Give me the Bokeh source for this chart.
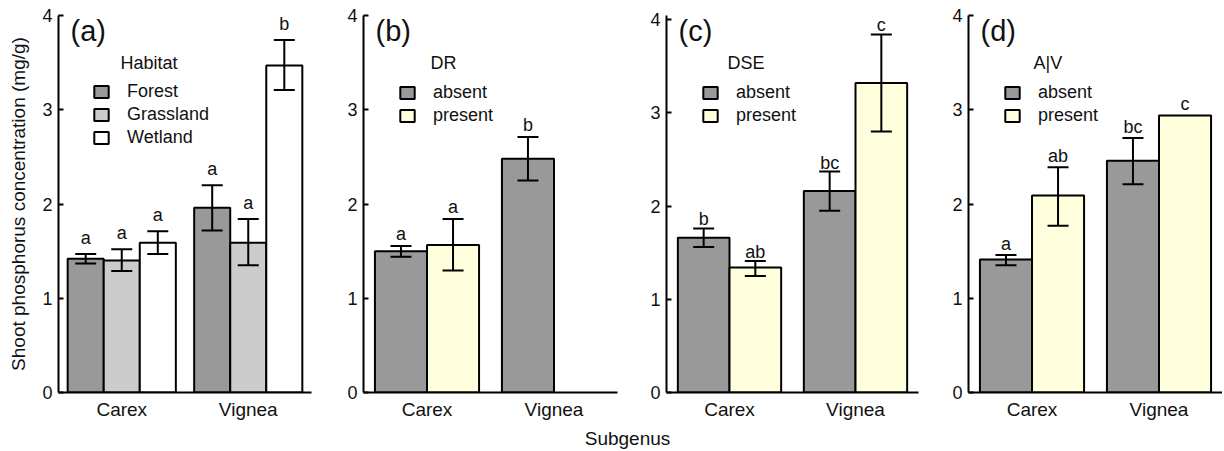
from bokeh.plotting import figure
from bokeh.models import (ColumnDataSource, FactorRange, Range1d, Whisker, TeeHead,
                          Legend, LegendItem, Label, LinearAxis, FixedTicker)
from bokeh.transform import dodge
from bokeh.layouts import row, column
from bokeh.embed import file_html
from bokeh.resources import INLINE

FONT = "Liberation Sans"
INK = "#111111"

subgenus = ["Carex", "Vignea"]

# (a) Habitat
habitat_levels = ["Forest", "Grassland", "Wetland"]
habitat_mean = [[1.42, 1.96], [1.40, 1.59], [1.59, 3.47]]
habitat_lower = [[1.37, 1.72], [1.29, 1.35], [1.47, 3.21]]
habitat_upper = [[1.47, 2.20], [1.52, 1.84], [1.71, 3.74]]
habitat_letters = [["a", "a"], ["a", "a"], ["a", "b"]]

# (b) DR
status_levels = ["absent", "present"]
dr_mean = [[1.50, 2.48], [1.565, None]]
dr_lower = [[1.44, 2.25], [1.295, None]]
dr_upper = [[1.555, 2.71], [1.84, None]]
dr_letters = [["a", "b"], ["a", None]]

# (c) DSE
dse_mean = [[1.66, 2.16], [1.34, 3.32]]
dse_lower = [[1.56, 1.95], [1.25, 2.80]]
dse_upper = [[1.76, 2.37], [1.41, 3.84]]
dse_letters = [["b", "bc"], ["ab", "c"]]

# (d) A|V
av_mean = [[1.41, 2.46], [2.09, 2.94]]
av_lower = [[1.35, 2.21], [1.77, None]]
av_upper = [[1.46, 2.70], [2.39, None]]
av_letters = [["a", "bc"], ["ab", "c"]]

habitat_colors = ["#999999", "#cccccc", "#ffffff"]
status_colors = ["#999999", "#ffffdd"]

TOP = 15
BOTTOM = 29
FRAME_H = 378
FIG_H = TOP + FRAME_H + BOTTOM


def make_panel(tag, title, levels, colors, mean, lower, upper, letters,
               width, left, right, y_end, bar_w, letter_gap, legend_x, legend_y,
               title_x):
    p = figure(width=width, height=FIG_H, x_range=FactorRange(factors=subgenus),
               y_range=Range1d(0, y_end), output_backend="svg", toolbar_location=None,
               min_border_left=left, min_border_right=right, min_border_top=TOP,
               min_border_bottom=BOTTOM)
    p.outline_line_color = None
    p.xgrid.visible = False
    p.ygrid.visible = False

    n = len(levels)
    items = []
    for i, lvl in enumerate(levels):
        off = (i - (n - 1) / 2) * bar_w
        xs, tops, wx, wl, wu, lx, ly, lt = [], [], [], [], [], [], [], []
        for j, sg in enumerate(subgenus):
            m = mean[i][j]
            if m is None:
                continue
            xs.append(sg)
            tops.append(m)
            if lower[i][j] is not None:
                wx.append(sg)
                wl.append(lower[i][j])
                wu.append(upper[i][j])
            if letters[i][j] is not None:
                lx.append(sg)
                ly.append(upper[i][j] if upper[i][j] is not None else m)
                lt.append(letters[i][j])
        src = ColumnDataSource(dict(x=xs, top=tops))
        r = p.vbar(x=dodge("x", off, range=p.x_range), top="top", bottom=0,
                   width=bar_w, source=src, fill_color=colors[i],
                   line_color="black", line_width=2)
        items.append(LegendItem(label=lvl, renderers=[r]))
        if wx:
            wsrc = ColumnDataSource(dict(x=wx, lower=wl, upper=wu))
            w = Whisker(source=wsrc, base=dodge("x", off, range=p.x_range),
                        lower="lower", upper="upper", line_color="black", line_width=2,
                        level="annotation",
                        upper_head=TeeHead(size=21, line_color="black", line_width=2),
                        lower_head=TeeHead(size=21, line_color="black", line_width=2))
            p.add_layout(w)
        lsrc = ColumnDataSource(dict(x=lx, y=ly, t=lt))
        p.text(x=dodge("x", off, range=p.x_range), y="y", text="t", source=lsrc,
               text_align="center", text_baseline="alphabetic", y_offset=-letter_gap,
               text_font_size="18px", text_font={"value": FONT}, text_color=INK)

    legend = Legend(items=items, location=(legend_x, legend_y),
                    label_text_font_size="18px", label_text_font=FONT,
                    label_text_color=INK, glyph_width=18, glyph_height=15,
                    label_standoff=17, spacing=2, padding=0, margin=0,
                    border_line_color=None, background_fill_alpha=0)
    p.add_layout(legend)

    p.add_layout(Label(x=title_x, y=FRAME_H - 48, x_units="screen", y_units="screen",
                       text=title, text_font_size="18px", text_font=FONT,
                       text_color=INK, text_baseline="middle"))
    p.add_layout(Label(x=12, y=FRAME_H - 16, x_units="screen",
                       y_units="screen", text=tag, text_font_size="29px",
                       text_font=FONT, text_color=INK, text_baseline="middle"))

    xa = p.xaxis[0]
    xa.axis_line_width = 2
    xa.axis_line_color = "black"
    xa.major_tick_line_color = None
    xa.minor_tick_line_color = None
    xa.major_tick_out = 0
    xa.major_tick_in = 0
    xa.minor_tick_out = 0
    xa.minor_tick_in = 0
    xa.major_label_standoff = 6
    xa.major_label_text_font = FONT
    xa.major_label_text_font_size = "19px"
    xa.major_label_text_color = INK

    ya = p.yaxis[0]
    ya.ticker = [0, 1, 2, 3, 4]
    ya.axis_line_width = 2
    ya.axis_line_color = "black"
    ya.major_tick_line_width = 2
    ya.major_tick_line_color = "black"
    ya.major_tick_in = 5
    ya.major_tick_out = 0
    ya.minor_tick_line_color = None
    ya.minor_tick_out = 0
    ya.minor_tick_in = 0
    ya.major_label_standoff = 6
    ya.major_label_text_font = FONT
    ya.major_label_text_font_size = "18px"
    ya.major_label_text_color = INK
    return p


def bare(width, height, **borders):
    f = figure(width=width, height=height, output_backend="svg", toolbar_location=None,
               x_range=Range1d(0, 1), y_range=Range1d(0, 1),
               x_axis_location=None, y_axis_location=None, **borders)
    f.outline_line_color = None
    f.xgrid.visible = False
    f.ygrid.visible = False
    return f


def style_title_axis(ax, text):
    ax.ticker = FixedTicker(ticks=[])
    ax.axis_label = text
    ax.axis_label_text_font = FONT
    ax.axis_label_text_font_size = "19px"
    ax.axis_label_text_font_style = "normal"
    ax.axis_label_text_color = INK
    ax.axis_label_standoff = 0
    ax.axis_line_color = None
    ax.major_tick_line_color = None
    ax.minor_tick_line_color = None
    ax.major_tick_out = 0
    ax.major_tick_in = 0
    ax.minor_tick_out = 0
    ax.minor_tick_in = 0
    ax.major_label_standoff = 0


# y-axis title in its own narrow strip (same vertical frame as the panels)
py = bare(30, FIG_H, min_border_left=28, min_border_right=0,
          min_border_top=TOP, min_border_bottom=BOTTOM)
yt = LinearAxis()
style_title_axis(yt, "Shoot phosphorus concentration (mg/g)")
py.add_layout(yt, "left")

pa = make_panel("(a)", "Habitat", habitat_levels, habitat_colors, habitat_mean,
                habitat_lower, habitat_upper, habitat_letters,
                width=309, left=28, right=28, y_end=4, bar_w=0.285, letter_gap=16,
                legend_x=34, legend_y=244, title_x=62)
pb = make_panel("(b)", "DR", status_levels, status_colors, dr_mean, dr_lower,
                dr_upper, dr_letters, width=303, left=24, right=25, y_end=4,
                bar_w=0.41, letter_gap=12, legend_x=35, legend_y=266, title_x=67)
pc = make_panel("(c)", "DSE", status_levels, status_colors, dse_mean, dse_lower,
                dse_upper, dse_letters, width=302, left=24, right=26, y_end=4.043,
                bar_w=0.41, letter_gap=9, legend_x=35, legend_y=266, title_x=61)
pd_ = make_panel("(d)", "A|V", status_levels, status_colors, av_mean, av_lower,
                 av_upper, av_letters, width=278, left=24, right=0, y_end=4,
                 bar_w=0.41, letter_gap=11, legend_x=35, legend_y=266, title_x=65)

# x-axis title: strip below, frame centred under the middle of the panels
pl = bare(1222, 451 - FIG_H, min_border_left=32, min_border_right=0,
          min_border_top=0, min_border_bottom=0)
xt = LinearAxis()
style_title_axis(xt, "Subgenus")
pl.add_layout(xt, "below")

layout = column(row(py, pa, pb, pc, pd_), pl)
open("out.html", "w").write(file_html(layout, INLINE))
